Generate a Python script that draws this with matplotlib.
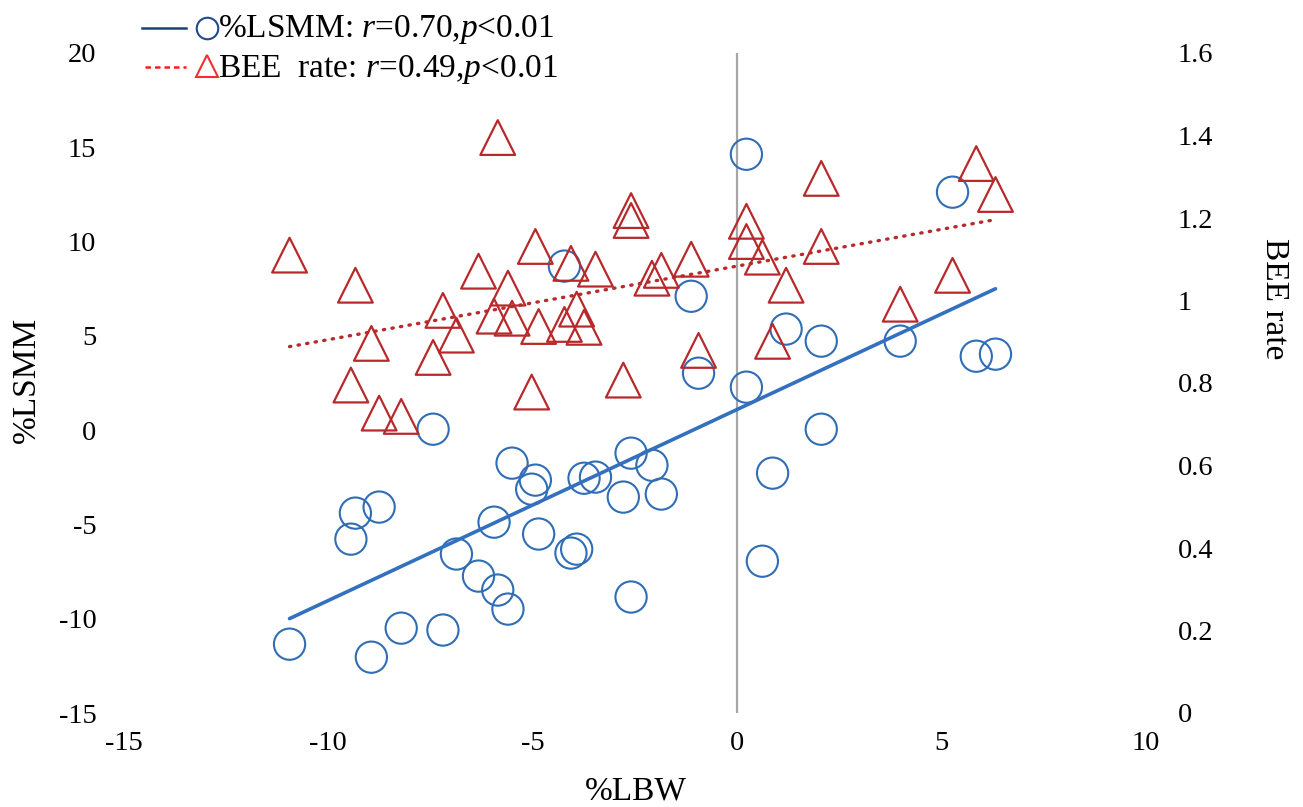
import numpy as np
import matplotlib
matplotlib.use('Agg')
import matplotlib.pyplot as plt
from matplotlib.lines import Line2D
from matplotlib.ticker import FormatStrFormatter

plt.rcParams['font.family'] = ['Liberation Serif', 'DejaVu Serif']
plt.rcParams['mathtext.fontset'] = 'custom'
plt.rcParams['mathtext.rm'] = 'Liberation Serif'
plt.rcParams['mathtext.it'] = 'Liberation Serif:italic'
plt.rcParams['axes.unicode_minus'] = False

# ---- data ----
lbw = [-10.94, -8.94, -8.21, -7.19, -9.44, -9.33, -8.75, -7.43, -6.86, -6.32,
       -5.85, -5.60, -5.94, -5.50, -4.93, -5.02, -4.85, -4.06, -3.92, -4.22,
       -3.74, -3.46, -2.78, -2.59, -2.59, -2.08, -1.85, -1.12, -0.94, 0.23,
       0.23, 0.62, 0.87, 1.20, 2.06, 2.06, 3.99, 5.27, 5.85, 6.32]
lsmm = [-11.35, -12.04, -10.50, -10.60, -5.78, -4.40, -4.08, 0.05, -6.57, -7.74,
        -8.48, -9.49, -4.88, -1.75, -2.65, -3.13, -5.51, -6.52, -6.31, 8.70,
        -2.55, -2.49, -3.55, -1.22, -8.85, -1.86, -3.39, 7.10, 3.02, 14.63,
        2.28, -6.95, -2.28, 5.36, 4.72, 0.05, 4.72, 12.62, 3.92, 4.03]
bee = [1.110, 0.896, 0.719, 0.976, 0.795, 1.037, 0.727, 0.862, 0.916, 1.071,
       1.395, 1.030, 0.962, 0.957, 1.131, 0.778, 0.937, 1.090, 0.979, 0.942,
       0.935, 1.076, 0.807, 1.218, 1.194, 1.054, 1.073, 1.100, 0.879, 1.192,
       1.143, 1.105, 0.901, 1.037, 1.296, 1.131, 0.991, 1.061, 1.332, 1.257]

x_ticks = [-15, -10, -5, 0, 5, 10]
y_ticks = [-15, -10, -5, 0, 5, 10, 15, 20]
y2_ticks = [0, 0.2, 0.4, 0.6, 0.8, 1.0, 1.2, 1.4, 1.6]

legend1 = '%LSMM: $r$=0.70,$p$<0.01'
legend2 = 'BEE  rate: $r$=0.49,$p$<0.01'

W, H = 1303, 807
fig = plt.figure(figsize=(W / 100, H / 100), dpi=100)
ax = fig.add_axes([123.5 / W, 1 - 713 / H, (1146 - 123.5) / W, 660 / H])
ax2 = ax.twinx()

circ_col = '#2F6DB5'
tri_col = '#B8292B'

ax.axvline(0, color='#A6A6A6', lw=1.6, zorder=0)

x = np.array(lbw)
xs = np.array([x.min(), x.max()])

ax.scatter(lbw, lsmm, s=22.5 ** 2, facecolors='none', edgecolors=circ_col,
           linewidths=1.5, zorder=2)
k1 = np.polyfit(x, np.array(lsmm), 1)
ax.plot(xs, np.polyval(k1, xs), color='#3370BF', lw=2.6, zorder=3,
        solid_capstyle='round')

ax2.scatter(lbw, bee, s=25 ** 2, marker='^', facecolors='none',
            edgecolors=tri_col, linewidths=1.6, zorder=2)
k2 = np.polyfit(x, np.array(bee), 1)
ax2.plot(xs, np.polyval(k2, xs), color=tri_col, lw=2.4, zorder=3,
         linestyle=(0, (0.4, 2.2)), dash_capstyle='round')

ax.set_xlim(-15, 10)
ax.set_ylim(-15, 20)
ax2.set_ylim(0, 1.6)
ax.set_xticks(x_ticks)
ax.set_yticks(y_ticks)
ax2.set_yticks(y2_ticks)
ax2.yaxis.set_major_formatter(FormatStrFormatter('%g'))

for a in (ax, ax2):
    for s in a.spines.values():
        s.set_visible(False)
ax.tick_params(axis='x', length=0, pad=13, labelsize=20.5)
ax.tick_params(axis='y', length=0, pad=19.5, labelsize=20.5)
ax2.tick_params(axis='y', length=0, pad=23, labelsize=20.5)

# axis titles
fig.text(636 / W, 1 - 799 / H, '%LBW', ha='center', va='baseline', fontsize=24)
fig.text(27 / W, 1 - 380 / H, '%LSMM', ha='center', va='center',
         rotation=90, fontsize=24)
fig.text(1274 / W, 1 - 299 / H, 'BEE rate', ha='center', va='center',
         rotation=-90, fontsize=24)

# legend (above the plot, top left)
def fx(px):
    return px / W

def fy(py):
    return 1 - py / H

fig.add_artist(Line2D([fx(142), fx(186)], [fy(28), fy(28)], color='#1F3E7C',
                      lw=1.8, transform=fig.transFigure))
fig.add_artist(Line2D([fx(207)], [fy(28)], marker='o', ms=15.5,
                      markerfacecolor='none', markeredgecolor='#1F4A94',
                      mew=1.5, transform=fig.transFigure))
fig.text(fx(218), fy(37), legend1, ha='left', va='baseline', fontsize=24)

fig.add_artist(Line2D([fx(145), fx(186)], [fy(67), fy(67)], color='#FF1A1A',
                      lw=1.8, linestyle=(0, (2.2, 1.6)),
                      transform=fig.transFigure))
fig.add_artist(Line2D([fx(207)], [fy(66)], marker='^', ms=16,
                      markerfacecolor='none', markeredgecolor='#F03030',
                      mew=1.5, transform=fig.transFigure))
fig.text(fx(218), fy(77), legend2, ha='left', va='baseline', fontsize=24)

fig.savefig('out.png', dpi=100)
